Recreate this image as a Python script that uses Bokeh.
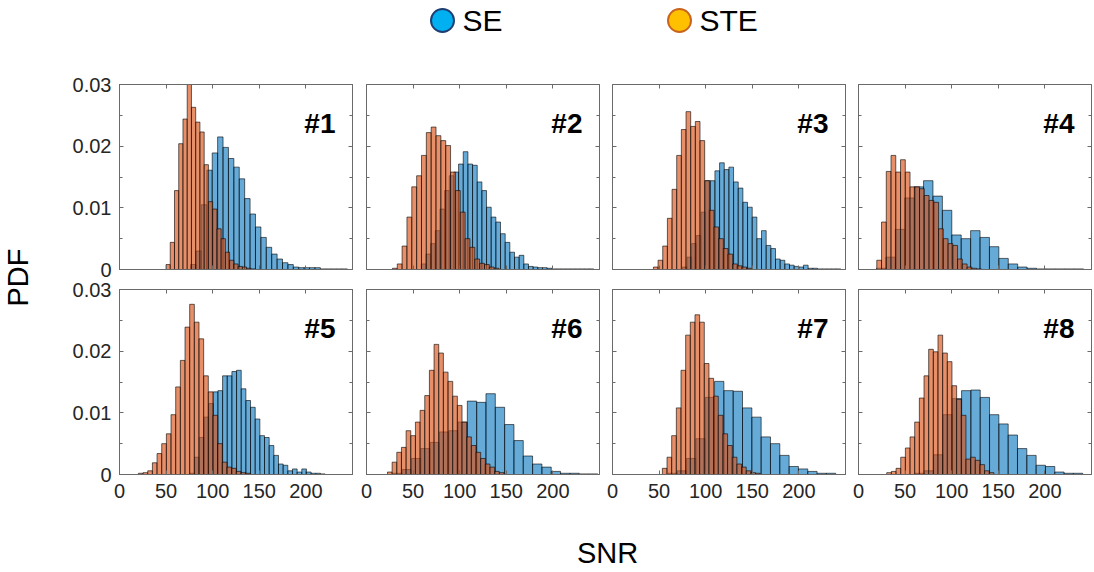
import math
from bokeh.plotting import figure
from bokeh.layouts import row, column
from bokeh.models import (Range1d, FixedTicker, LinearAxis, CustomJSTickFormatter,
                          Label, ColumnDataSource)
from bokeh.embed import file_html
from bokeh.resources import INLINE

# ---------------- data ----------------
panel_labels = ["#1", "#2", "#3", "#4", "#5", "#6", "#7", "#8"]
series_names = ["SE", "STE"]
x_ticks = [0, 50, 100, 150, 200]
y_ticks = [0, 0.01, 0.02, 0.03]
y_minor_ticks = [0.005, 0.015, 0.025]

# histogram bin layout (first bin edge, bin width) for every panel
se_bin_start = [76.3, 58.8, 74.9, 19.3, 75.6, 28.2, 59.5, 60.6]
se_bin_width = [5.8, 5.0, 5.0, 10.1, 5.0, 10.0, 10.0, 10.0]
ste_bin_start = [49.9, 27.8, 43.9, 19.6, 20.3, 22.5, 53.5, 30.3]
ste_bin_width = [4.55, 5.2, 5.0, 5.1, 5.0, 5.0, 5.0, 5.0]

# PDF values of the SE histograms
se_pdf_1 = [0.0008, 0.0030, 0.0105, 0.0161, 0.0189, 0.0215, 0.0198, 0.0180, 0.0166, 0.0147,
            0.0115, 0.0090, 0.0069, 0.0052, 0.0036, 0.0025, 0.0017, 0.0011, 0.0008, 0.0004,
            0.0003, 0.0003, 0.0003, 0.0003, 0.0001, 0.0001, 0.0001, 0.0001, 0.0001]
se_pdf_2 = [0.0009, 0.0025, 0.0042, 0.0063, 0.0098, 0.0128, 0.0152, 0.0158, 0.0171, 0.0191,
            0.0171, 0.0169, 0.0142, 0.0128, 0.0101, 0.0085, 0.0077, 0.0058, 0.0044, 0.0028,
            0.0020, 0.0023, 0.0009, 0.0005, 0.0004, 0.0003, 0.0003, 0.0002, 0.0001, 0.0001,
            0.0001, 0.0001, 0.0001, 0.0001, 0.0001, 0.0001, 0.0001]
se_pdf_3 = [0.0004, 0.0020, 0.0042, 0.0055, 0.0093, 0.0144, 0.0144, 0.0160, 0.0173, 0.0162,
            0.0166, 0.0142, 0.0132, 0.0109, 0.0101, 0.0085, 0.0050, 0.0063, 0.0039, 0.0034,
            0.0017, 0.0015, 0.0009, 0.0007, 0.0005, 0.0004, 0.0007, 0.0002, 0.0002, 0.0001,
            0.0001, 0.0001, 0.0001, 0.0001]
se_pdf_4 = [0.0002, 0.0020, 0.0065, 0.0116, 0.0134, 0.0144, 0.0119, 0.0096, 0.0056, 0.0050,
            0.0063, 0.0052, 0.0037, 0.0018, 0.0009, 0.0004, 0.0002, 0.0001, 0.0001, 0.0001,
            0.0001, 0.0001]
se_pdf_5 = [0.0002, 0.0028, 0.0060, 0.0093, 0.0115, 0.0134, 0.0136, 0.0160, 0.0160, 0.0167,
            0.0169, 0.0139, 0.0120, 0.0109, 0.0090, 0.0063, 0.0060, 0.0047, 0.0031, 0.0017,
            0.0015, 0.0006, 0.0009, 0.0004, 0.0009, 0.0004, 0.0002, 0.0002, 0.0001]
se_pdf_6 = [0.0002, 0.0008, 0.0026, 0.0042, 0.0052, 0.0069, 0.0071, 0.0085, 0.0119, 0.0117,
            0.0131, 0.0109, 0.0081, 0.0055, 0.0030, 0.0017, 0.0012, 0.0005, 0.0002, 0.0002,
            0.0001, 0.0001]
se_pdf_7 = [0.0002, 0.0006, 0.0026, 0.0058, 0.0125, 0.0151, 0.0136, 0.0135, 0.0108, 0.0093,
            0.0061, 0.0050, 0.0031, 0.0013, 0.0009, 0.0005, 0.0002, 0.0002]
se_pdf_8 = [0.0002, 0.0006, 0.0032, 0.0097, 0.0123, 0.0136, 0.0137, 0.0125, 0.0097, 0.0082,
            0.0064, 0.0042, 0.0031, 0.0015, 0.0013, 0.0004, 0.0002, 0.0002]

# PDF values of the STE histograms
ste_pdf_1 = [0.0008, 0.0044, 0.0128, 0.0204, 0.0244, 0.0305, 0.0263, 0.0239, 0.0223, 0.0170,
             0.0110, 0.0098, 0.0066, 0.0050, 0.0028, 0.0015, 0.0009, 0.0005, 0.0004, 0.0002,
             0.0001]
ste_pdf_2 = [0.0002, 0.0009, 0.0038, 0.0085, 0.0134, 0.0152, 0.0185, 0.0222, 0.0231, 0.0217,
             0.0209, 0.0201, 0.0158, 0.0128, 0.0093, 0.0050, 0.0036, 0.0017, 0.0010, 0.0008,
             0.0004, 0.0002]
ste_pdf_3 = [0.0004, 0.0015, 0.0038, 0.0083, 0.0130, 0.0185, 0.0227, 0.0256, 0.0232, 0.0240,
             0.0209, 0.0144, 0.0096, 0.0069, 0.0050, 0.0034, 0.0025, 0.0009, 0.0006, 0.0004,
             0.0002]
ste_pdf_4 = [0.0015, 0.0077, 0.0159, 0.0185, 0.0158, 0.0178, 0.0158, 0.0134, 0.0134, 0.0131,
             0.0120, 0.0112, 0.0109, 0.0066, 0.0050, 0.0042, 0.0039, 0.0017, 0.0009, 0.0004,
             0.0002, 0.0001]
ste_pdf_5 = [0.0002, 0.0003, 0.0006, 0.0019, 0.0034, 0.0050, 0.0066, 0.0097, 0.0142, 0.0185,
             0.0239, 0.0276, 0.0247, 0.0220, 0.0160, 0.0134, 0.0096, 0.0050, 0.0020, 0.0012,
             0.0010, 0.0005, 0.0003, 0.0002]
ste_pdf_6 = [0.0004, 0.0020, 0.0036, 0.0044, 0.0071, 0.0063, 0.0085, 0.0104, 0.0128, 0.0169,
             0.0211, 0.0197, 0.0166, 0.0151, 0.0127, 0.0112, 0.0085, 0.0061, 0.0047, 0.0036,
             0.0026, 0.0017, 0.0012, 0.0005, 0.0003]
ste_pdf_7 = [0.0010, 0.0028, 0.0063, 0.0108, 0.0169, 0.0226, 0.0247, 0.0259, 0.0247, 0.0180,
             0.0156, 0.0127, 0.0096, 0.0066, 0.0047, 0.0028, 0.0017, 0.0012, 0.0006, 0.0003,
             0.0002]
ste_pdf_8 = [0.0003, 0.0005, 0.0010, 0.0028, 0.0043, 0.0061, 0.0085, 0.0124, 0.0160, 0.0203,
             0.0199, 0.0226, 0.0197, 0.0183, 0.0144, 0.0122, 0.0096, 0.0025, 0.0028, 0.0023,
             0.0016, 0.0006, 0.0003]

se_pdfs = [se_pdf_1, se_pdf_2, se_pdf_3, se_pdf_4, se_pdf_5, se_pdf_6, se_pdf_7, se_pdf_8]
ste_pdfs = [ste_pdf_1, ste_pdf_2, ste_pdf_3, ste_pdf_4, ste_pdf_5, ste_pdf_6, ste_pdf_7, ste_pdf_8]

# ---------------- style ----------------
FONT = "Liberation Sans"
AX_COLOR = "#6a6a6a"
TXT_COLOR = "#262626"
SE_FILL = "#0072BD"
STE_FILL = "#D95319"
FRAME_W = 233
FRAME_H = 185


def hist_source(start, width, heights):
    left = [start + i * width for i in range(len(heights))]
    right = [l + width for l in left]
    return ColumnDataSource(dict(left=left, right=right, top=heights,
                                 bottom=[0] * len(heights)))


def blank_formatter():
    return CustomJSTickFormatter(code="return '';")


def style_axis(ax, labelled):
    ax.axis_line_color = AX_COLOR
    ax.major_tick_line_color = AX_COLOR
    ax.minor_tick_line_color = AX_COLOR
    ax.major_tick_in = 4
    ax.major_tick_out = 0
    ax.minor_tick_in = 3
    ax.minor_tick_out = 0
    ax.major_label_text_font = FONT
    ax.major_label_text_font_size = "20px"
    ax.major_label_text_color = TXT_COLOR
    if not labelled:
        ax.formatter = blank_formatter()
        ax.major_label_standoff = 0


def make_panel(k):
    col = k % 4
    rw = k // 4
    bl = 60 if col == 0 else 7
    br = 7 if col == 0 else (2 if col == 3 else 6)
    bt = 10
    bb = 10 if rw == 0 else 36
    p = figure(width=bl + FRAME_W + br, height=bt + FRAME_H + bb,
               x_range=Range1d(0, 250), y_range=Range1d(0, 0.03),
               x_axis_type=None, y_axis_type=None,
               output_backend="svg", toolbar_location=None,
               min_border_left=bl, min_border_right=br,
               min_border_top=bt, min_border_bottom=bb)
    p.outline_line_color = AX_COLOR
    p.xgrid.visible = False
    p.ygrid.visible = False
    p.background_fill_color = "white"
    p.border_fill_color = "white"

    # axes on all four sides (MATLAB box), ticks pointing inward
    xb = LinearAxis(ticker=FixedTicker(ticks=x_ticks))
    style_axis(xb, rw == 1)
    xb.major_label_standoff = 9 if rw == 1 else 0
    p.add_layout(xb, "below")
    xt = LinearAxis(ticker=FixedTicker(ticks=x_ticks))
    style_axis(xt, False)
    p.add_layout(xt, "above")

    yl = LinearAxis(ticker=FixedTicker(ticks=y_ticks, minor_ticks=y_minor_ticks))
    style_axis(yl, col == 0)
    if col == 0:
        yl.formatter = CustomJSTickFormatter(code="return tick == 0 ? '0' : tick.toFixed(2);")
        yl.major_label_standoff = 8
    p.add_layout(yl, "left")
    yr = LinearAxis(ticker=FixedTicker(ticks=y_ticks, minor_ticks=y_minor_ticks))
    style_axis(yr, False)
    p.add_layout(yr, "right")

    se_src = hist_source(se_bin_start[k], se_bin_width[k], se_pdfs[k])
    ste_src = hist_source(ste_bin_start[k], ste_bin_width[k], ste_pdfs[k])
    p.quad(left="left", right="right", top="top", bottom="bottom", source=se_src,
           fill_color=SE_FILL, fill_alpha=0.6, line_color="black", line_alpha=0.85,
           line_width=0.7)
    p.quad(left="left", right="right", top="top", bottom="bottom", source=ste_src,
           fill_color=STE_FILL, fill_alpha=0.65, line_color="black", line_alpha=0.85,
           line_width=0.7)

    p.add_layout(Label(x=FRAME_W - 17, y=FRAME_H - 39, x_units="screen", y_units="screen",
                       text=panel_labels[k], text_align="right", text_baseline="alphabetic",
                       text_font=FONT, text_font_style="bold", text_font_size="28px",
                       text_color="black"))
    return p


panels = [make_panel(k) for k in range(8)]

LEFT_W = 59
TOTAL_W = LEFT_W + sum(p.width for p in panels[:4])
LEG_H = 74
XLAB_H = 62

# ---------------- legend (top) ----------------
leg = figure(width=TOTAL_W, height=LEG_H, x_range=Range1d(0, TOTAL_W), y_range=Range1d(0, LEG_H),
             x_axis_type=None, y_axis_type=None, output_backend="svg", toolbar_location=None,
             min_border=0)
leg.outline_line_color = None
leg.xgrid.visible = False
leg.ygrid.visible = False
leg_marker_x = [442, 679]
leg_y = LEG_H - 20
leg_fill = ["#00B0F0", "#FFC000"]
leg_line = ["#1F3F73", "#C9651E"]
leg.scatter(x=leg_marker_x, y=[leg_y, leg_y], size=23, marker="circle",
            fill_color=leg_fill, line_color=leg_line, line_width=2)
for xm, name in zip(leg_marker_x, series_names):
    leg.add_layout(Label(x=xm + 20, y=leg_y, text=name, text_align="left",
                         text_baseline="middle", text_font=FONT, text_font_size="30px",
                         text_color="black"))

# ---------------- shared axis titles ----------------
rows_h = panels[0].height + panels[4].height
ylab = figure(width=LEFT_W, height=rows_h, x_axis_type=None, y_axis_type=None,
              x_range=Range1d(0, 1), y_range=Range1d(0, 1),
              output_backend="svg", toolbar_location=None, min_border=0)
ylab.outline_line_color = None
ylab.xgrid.visible = False
ylab.ygrid.visible = False
ylab.add_layout(Label(x=17, y=rows_h - 203, x_units="screen", y_units="screen", text="PDF",
                      angle=math.pi / 2, text_align="center", text_baseline="middle",
                      text_font=FONT, text_font_size="29px", text_color="black"))

xlab = figure(width=TOTAL_W, height=XLAB_H, x_axis_type=None, y_axis_type=None,
              x_range=Range1d(0, 1), y_range=Range1d(0, 1),
              output_backend="svg", toolbar_location=None, min_border=0)
xlab.outline_line_color = None
xlab.xgrid.visible = False
xlab.ygrid.visible = False
xlab.add_layout(Label(x=607, y=XLAB_H - 42, x_units="screen", y_units="screen", text="SNR",
                      text_align="center", text_baseline="middle",
                      text_font=FONT, text_font_size="29px", text_color="black"))

grid = column(row(*panels[:4], spacing=0), row(*panels[4:], spacing=0), spacing=0)
layout = column(leg, row(ylab, grid, spacing=0), xlab, spacing=0)

with open("out.html", "w") as f:
    f.write(file_html(layout, INLINE))
